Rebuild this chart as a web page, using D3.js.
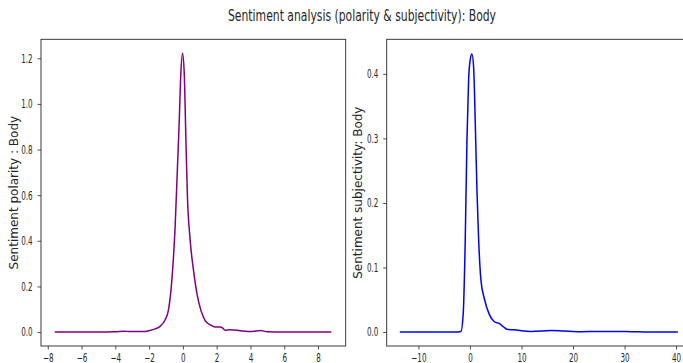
<!DOCTYPE html>
<html lang="en">
<head>
<meta charset="UTF-8">
<title>Sentiment analysis</title>
<style>
  body { margin: 0; background: #fff; }
  svg { display: block; overflow: hidden; }
  text { font-family: "DejaVu Sans", sans-serif; fill: #262626; }
</style>
</head>
<body>
<svg width="683" height="363" id="svg"></svg>
<script src="https://d3js.org/d3.v7.min.js"></script>
<script>
const title = "Sentiment analysis (polarity & subjectivity): Body"

// left panel: polarity density
const polarityX = [-7.59, -5, -4, -3.5, -3.1, -2.5, -2.0, -1.6, -1.35, -1.05, -0.85, -0.65, -0.46, -0.32, -0.22, -0.12, -0.02,
  0.08, 0.18, 0.27, 0.43, 0.63, 0.83, 1.03, 1.19, 1.32, 1.62, 1.91, 2.21, 2.31, 2.51, 2.8, 3.4, 4.0, 4.6, 5.0, 6.0, 8.79]
const polarityY = [0, 0, 0.001, 0.004, 0.002, 0.002, 0.006, 0.015, 0.025, 0.054, 0.098, 0.23, 0.46, 0.725, 0.915, 1.134, 1.222,
  1.134, 0.842, 0.594, 0.404, 0.27, 0.17, 0.105, 0.07, 0.05, 0.032, 0.022, 0.022, 0.02, 0.008, 0.01, 0.006, 0.002, 0.007, 0.001, 0, 0]
const polarityXTicks = [-8, -6, -4, -2, 0, 2, 4, 6, 8]
const polarityYTicks = [0, 0.2, 0.4, 0.6, 0.8, 1.0, 1.2]

// right panel: subjectivity density
const subjX = [-13.6, -3, -1.75, -1.3, -0.91, -0.58, -0.26, 0.07, 0.39, 0.72, 1.04, 1.36, 1.69, 2.14, 2.79, 3.77, 4.74, 5.72,
  6.37, 7.35, 8.6, 10, 11.9, 15.8, 18.3, 21.6, 24.9, 28.1, 31.4, 35, 40.35]
const subjY = [0, 0, 0.001, 0.029, 0.143, 0.297, 0.39, 0.423, 0.431, 0.41, 0.323, 0.22, 0.143, 0.08, 0.052, 0.027, 0.016, 0.013,
  0.009, 0.004, 0.0035, 0.002, 0.001, 0.0025, 0.0015, 0.0005, 0.001, 0.001, 0.0005, 0, 0]
const subjXTicks = [-10, 0, 10, 20, 30, 40]
const subjYTicks = [0, 0.1, 0.2, 0.3, 0.4]

const svg = d3.select("svg#svg")
const axTop = 39.3, axBottom = 346
const squash = 0.6  // tick/title font is narrow in the reference

svg.append("text")
  .attr("x", 362).attr("y", 21)
  .attr("text-anchor", "middle")
  .attr("font-size", 15)
  .attr("textLength", 268).attr("lengthAdjust", "spacingAndGlyphs")
  .text(title)

function panel(opt) {
  const x = d3.scaleLinear().domain(opt.xDomain).range([opt.left, opt.right])
  const y = d3.scaleLinear().domain(opt.yDomain).range([axBottom, axTop])
  const g = svg.append("g")

  const xAxis = d3.axisBottom(x).tickValues(opt.xTicks).tickFormat(d3.format("d")).tickSizeOuter(0).tickSize(3.5).tickPadding(3.5)
  const yAxis = d3.axisLeft(y).tickValues(opt.yTicks).tickFormat(d3.format(".1f")).tickSizeOuter(0).tickSize(3.5).tickPadding(4.8)

  const gx = g.append("g").attr("transform", `translate(0,${axBottom})`).call(xAxis)
  const gy = g.append("g").attr("transform", `translate(${opt.left},0)`).call(yAxis)
  gx.select(".domain").remove()
  gy.select(".domain").remove()
  g.selectAll(".tick line").attr("stroke", "#262626").attr("stroke-width", 0.8)
  g.selectAll(".tick text").attr("font-family", "DejaVu Sans").attr("font-size", 12).attr("fill", "#1a1a1a")
  gx.selectAll(".tick text").attr("transform", `scale(${squash},1)`)
  gy.selectAll(".tick text").attr("x", -8.3 / squash).attr("transform", `scale(${squash},1)`)

  // frame
  g.append("rect")
    .attr("x", opt.left).attr("y", axTop)
    .attr("width", opt.right - opt.left).attr("height", axBottom - axTop)
    .attr("fill", "none").attr("stroke", "#262626").attr("stroke-width", 0.9)

  const line = d3.line().x(i => x(opt.xs[i])).y(i => y(opt.ys[i])).curve(d3.curveMonotoneX)
  g.append("path")
    .attr("d", line(d3.range(opt.xs.length)))
    .attr("fill", "none").attr("stroke", opt.color).attr("stroke-width", 1.5)

  g.append("text")
    .attr("transform", `translate(${opt.labelX},${(axTop + axBottom) / 2}) rotate(-90)`)
    .attr("text-anchor", "middle")
    .attr("font-size", 12)
    .text(opt.label)
}

panel({
  left: 41, right: 345.7, xDomain: [-8.4, 9.64], yDomain: [-0.0611, 1.2833],
  xs: polarityX, ys: polarityY, xTicks: polarityXTicks, yTicks: polarityYTicks,
  color: "purple", label: "Sentiment polarity : Body", labelX: 18.3
})
panel({
  left: 386.7, right: 691.4, xDomain: [-16.15, 42.97], yDomain: [-0.0216, 0.4536],
  xs: subjX, ys: subjY, xTicks: subjXTicks, yTicks: subjYTicks,
  color: "blue", label: "Sentiment subjectivity: Body", labelX: 362.3
})
</script>
</body>
</html>
